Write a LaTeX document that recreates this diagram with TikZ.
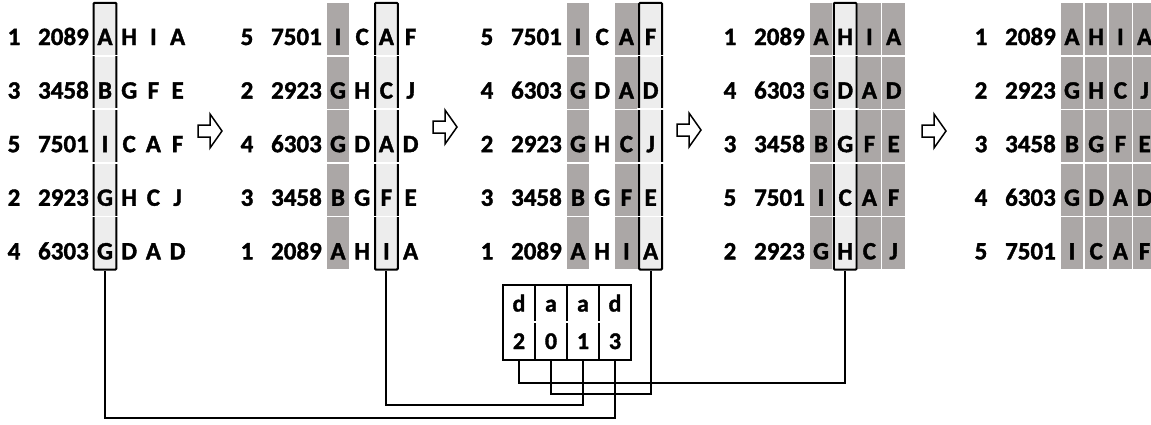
\documentclass[tikz,border=0pt]{standalone}
\usepackage{fontspec}
\setmainfont{Carlito}
\newfontfamily\tally{Carlito}[UprightFont={Carlito Bold},FakeBold=1.4]
\usepackage{tikz}
\usetikzlibrary{fit,calc}
\definecolor{Stone}{HTML}{ABA7A6}
\definecolor{Mist}{HTML}{EDEDED}
\tikzset{
 sym/.style={inner sep=0pt,font=\tally\fontsize{25}{30}\selectfont},
 cell/.style={sym,minimum width=22.4pt,minimum height=52pt,text height=34pt,text depth=2pt},
 hibox/.style={draw,line width=2pt,inner sep=0pt,rounded corners=1pt},
 gap/.style={draw=white,line width=1.6pt},
 keycell/.style={sym,font=\tally\fontsize{24}{28}\selectfont,minimum width=32pt,
   minimum height=37.5pt,text height=17pt,text depth=1pt},
 wire/.style={line width=2pt},
 passarrow/.style={draw,fill=white,line width=1.5pt,line join=miter}
}

\begin{document}
\begin{tikzpicture}[x=1pt,y=-1pt]
\useasboundingbox (0,0) rectangle (1151,424);
% one table per pass; the keyed column gets a box
\foreach \p/\px/\hl/\kinds/\rows in {
 1/105/0/{Mist,white,white,white}/{1/2089/A/H/I/A,3/3458/B/G/F/E,5/7501/I/C/A/F,2/2923/G/H/C/J,4/6303/G/D/A/D},
 2/338/2/{Stone,white,Mist,white}/{5/7501/I/C/A/F,2/2923/G/H/C/J,4/6303/G/D/A/D,3/3458/B/G/F/E,1/2089/A/H/I/A},
 3/578/3/{Stone,white,Stone,Mist}/{5/7501/I/C/A/F,4/6303/G/D/A/D,2/2923/G/H/C/J,3/3458/B/G/F/E,1/2089/A/H/I/A},
 4/821/1/{Stone,Mist,Stone,Stone}/{1/2089/A/H/I/A,4/6303/G/D/A/D,3/3458/B/G/F/E,5/7501/I/C/A/F,2/2923/G/H/C/J},
 5/1072/9/{Stone,Stone,Stone,Stone}/{1/2089/A/H/I/A,2/2923/G/H/C/J,3/3458/B/G/F/E,4/6303/G/D/A/D,5/7501/I/C/A/F}}{
  \foreach \idx/\val/\la/\lb/\lc/\ld [count=\row from 0] in \rows {
    \node[sym,anchor=base] (p\p-\row-k) at (\px-91,45+53.6*\row) {\idx};
    \node[sym,anchor=base east] (p\p-\row-v) at (\px-16,45+53.6*\row) {\val};
    \foreach \shade [count=\col from 0] in \kinds
      \node[cell,fill=\shade] (p\p-\row-\col) at (\px+24.2*\col,29+53.6*\row)
        {\ifcase\col\la\or\lb\or\lc\or\ld\fi};
  }
  \ifnum\hl<4
    \node[hibox,fit=(p\p-0-\hl)(p\p-4-\hl)] (box\p) {};
    \foreach \row in {1,...,4}
      \draw[gap] ([xshift=-2pt,yshift=0.8pt]p\p-\row-\hl.north west)
        -- ([xshift=2pt,yshift=0.8pt]p\p-\row-\hl.north east);
  \fi
}

% arrows between passes
\foreach \ax/\ay in {210/131,445/127,689/130,934/131}
  \draw[passarrow,shift={(\ax,\ay)}] (-12,-6) -- (0,-6) -- (0,-17) -- (12,0)
    -- (0,17) -- (0,6) -- (-12,6) -- cycle;

% key order table
\foreach \t/\v [count=\i from 0] in {d/2,a/0,a/1,d/3} {
  \node[keycell] (kt\i) at (519+32*\i,303.5) {\t};
  \node[keycell] (kb\i) at (519+32*\i,341) {\v};
}
\draw[wire] (kt0.north west) rectangle (kb3.south east);
\foreach \i in {1,2,3} {
  \draw[wire,shorten >=1pt] (kt\i.north west) -- (kt\i.south west);
  \draw[wire,shorten <=1pt] (kb\i.north west) -- (kb\i.south west);
}

\draw[wire] (kb0.south) -- ++(0,23) -| (box4.south);
\draw[wire] (kb1.south) -- ++(0,34) -| (box3.south);
\draw[wire] (kb2.south) -- ++(0,45) -| (box2.south);
\draw[wire] (kb3.south) -- ++(0,58) -| (box1.south);
\end{tikzpicture}
\end{document}
